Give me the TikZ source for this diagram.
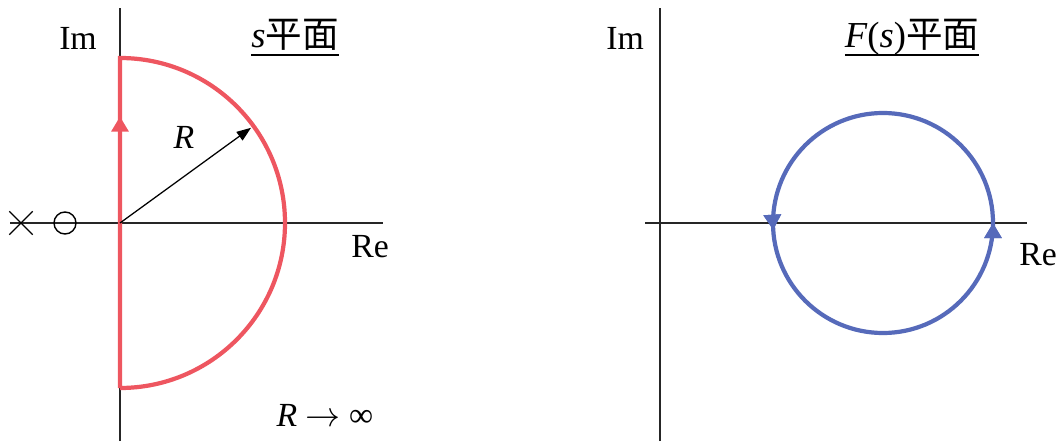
\documentclass[tikz,border=0pt]{standalone}
\usepackage{fontspec}
\setmainfont{Liberation Serif}
\newfontfamily\cjk{Noto Sans CJK JP}
\usetikzlibrary{arrows.meta}
\usetikzlibrary{positioning}
\usetikzlibrary{calc}
\usetikzlibrary{shapes.misc}
\usetikzlibrary{decorations.markings}

\definecolor{contred}{RGB}{238,86,96}
\definecolor{contblue}{RGB}{86,106,186}
\newcommand{\planetitle}[1]{\sbox0{#1}\usebox0\llap{\rule[-6pt]{\wd0}{1.5pt}}}

\begin{document}
\begin{tikzpicture}[
        x=0.025cm, y=0.025cm,
        font=\fontsize{24}{28}\selectfont,
        axis/.style={line width=1pt, black!85},
        contour/.style={line width=3pt},
        midtip/.style={
            postaction={decorate},
            decoration={markings,
                mark=at position #1 with {\arrow{Triangle[length=0.38cm,width=0.42cm]}}}
        },
        pole/.style={draw, cross out, line width=1pt, minimum size=0.55cm, inner sep=0pt},
        zero/.style={draw, circle, line width=1pt, minimum size=0.55cm, inner sep=0pt},
        label/.style={inner sep=1pt},
        cjkfont/.style={font=\fontsize{26}{30}\selectfont}
    ]
        \useasboundingbox (0,0) rectangle (1059,441);

        % s plane
        \coordinate (o1) at (120,218);
        \coordinate (im1top) at (120,433);
        \coordinate (im1bot) at (120,0);
        \coordinate (re1left) at (10,218);
        \coordinate (re1right) at (383,218);
        \draw[axis] (im1bot) -- (im1top);
        \draw[axis] (re1left) -- (re1right);
        \node[pole] (p1) at (21,218) {};
        \node[zero] (z1) at (65,218) {};

        \draw[contour, contred, midtip=0.32] (120,53) -- (120,383) arc[start angle=90, end angle=-90, radius=165];
        \coordinate (rtip) at ($(o1)+(36:162)$);
        \draw[-{Triangle[length=0.36cm,width=0.26cm]}, line width=0.9pt] (o1) -- (rtip);

        \node[label] (im1) at (78,403) {Im};
        \node[label] (re1) at (370,194) {Re};
        \node[label, cjkfont] (title1) at (295,403) {\planetitle{\textit{s}{\cjk 平面}}};
        \node[label] (rlab) at (184,304) {\textit{R}};
        \node[label] (lim) at (325,26) {\textit{R} $\rightarrow$ ∞};

        % F(s) plane
        \coordinate (o2) at (883,218);
        \coordinate (im2top) at (660,433);
        \coordinate (im2bot) at (660,0);
        \coordinate (re2left) at (645,218);
        \coordinate (re2right) at (1027,218);
        \draw[axis] (im2bot) -- (im2top);
        \draw[axis] (re2left) -- (re2right);

        \draw[contour, contblue, midtip=0.25, midtip=0.76] (o2) ++(0,-110) arc[start angle=-90, end angle=270, radius=110];

        \node[label] (im2) at (625,403) {Im};
        \node[label] (re2) at (1038,186) {Re};
        \node[label, cjkfont] (title2) at (912,403) {\planetitle{\textit{F}(\textit{s}){\cjk 平面}}};
    \end{tikzpicture}
\end{document}
